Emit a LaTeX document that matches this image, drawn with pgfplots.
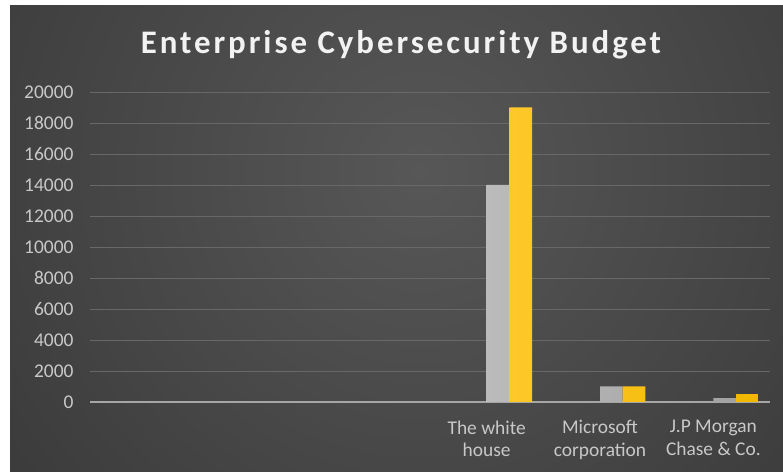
\documentclass[border=0pt]{standalone}
\usepackage{fontspec}
\setmainfont{Carlito}
\newfontfamily\titlefont[LetterSpace=9]{Carlito}
\usepackage{pgfplots}
\pgfplotsset{compat=1.18}
\definecolor{bgin}{HTML}{575757}
\definecolor{bgout}{HTML}{262626}
\definecolor{gridc}{HTML}{686868}
\definecolor{axc}{HTML}{A6A6A6}
\definecolor{ticklab}{HTML}{C8C8C8}
\definecolor{grayL}{HTML}{BBBBBB}
\definecolor{grayR}{HTML}{A2A2A2}
\definecolor{yelL}{HTML}{FFC82A}
\definecolor{yelR}{HTML}{F0B800}
\begin{document}
\begin{tikzpicture}[x=1bp,y=1bp]
\useasboundingbox (0,0) rectangle (783,472);
\fill[white] (0,0) rectangle (783,472);
\begin{scope}
\clip (10,0) rectangle (783,466);
\shade[inner color=bgin, outer color=bgout] (-480,-600) rectangle (1320,1200);
\end{scope}
\node[text=white!95!black, font=\titlefont\bfseries\fontsize{33}{36}\selectfont] at (401,427.5) {Enterprise Cybersecurity Budget};
\begin{axis}[
  at={(90bp,70bp)}, anchor=south west,
  scale only axis, width=680bp, height=310bp,
  xmin=-0.5, xmax=5.5, ymin=0, ymax=20000,
  axis line style={draw=none},
  xtick={3,4,5},
  xticklabels={The white\\house, Microsoft\\corporation, J.P Morgan\\Chase \& Co.},
  xticklabel style={align=center, text=ticklab, font=\fontsize{19.5}{23}\selectfont, yshift=-15bp},
  ytick={2000,4000,...,20000},
  extra y ticks={0},
  extra y tick style={grid style={draw=axc, line width=1.6bp}},
  ymajorgrids,
  grid style={draw=gridc, line width=0.9bp},
  yticklabel style={text=ticklab, font=\fontsize{19.5}{22}\selectfont, xshift=-13bp},
  scaled y ticks=false,
  major tick length=0pt,
  tick style={draw=none},
  /pgf/number format/1000 sep={},
  /pgf/number format/assume math mode=true,
  clip=false,
]
\addplot[ybar, bar width=0.2, bar shift=0.1, draw=none, left color=grayL, right color=grayR]
  coordinates {(3,14000) (4,1000) (5,250)};
\addplot[ybar, bar width=0.2, bar shift=0.3, draw=none, left color=yelL, right color=yelR]
  coordinates {(3,19000) (4,1000) (5,500)};
\end{axis}
\end{tikzpicture}
\end{document}
